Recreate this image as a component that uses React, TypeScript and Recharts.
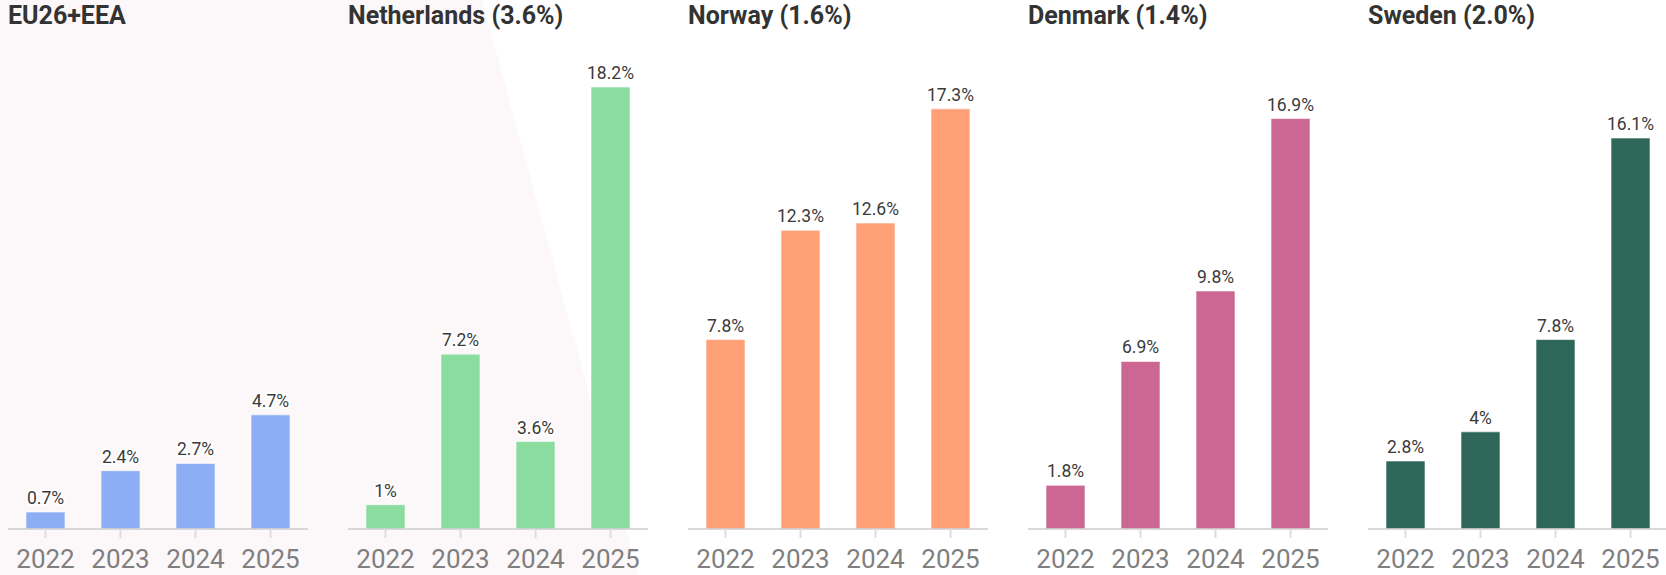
import { BarChart, Bar, XAxis, YAxis, LabelList } from 'recharts'

const YEARS = ['2022', '2023', '2024', '2025']

const TITLES = ['EU26+EEA', 'Netherlands (3.6%)', 'Norway (1.6%)', 'Denmark (1.4%)', 'Sweden (2.0%)']

const EU_VALUES = [0.7, 2.4, 2.7, 4.7]
const NETHERLANDS_VALUES = [1, 7.2, 3.6, 18.2]
const NORWAY_VALUES = [7.8, 12.3, 12.6, 17.3]
const DENMARK_VALUES = [1.8, 6.9, 9.8, 16.9]
const SWEDEN_VALUES = [2.8, 4, 7.8, 16.1]

const SERIES = [EU_VALUES, NETHERLANDS_VALUES, NORWAY_VALUES, DENMARK_VALUES, SWEDEN_VALUES]
const COLORS = ['#8daef4', '#8adc9f', '#ffa077', '#cc6693', '#2e6759']

const Y_MAX = Math.max(...SERIES.flat())
const FONT = 'Roboto, "Noto Sans", sans-serif'

const PANEL_W = 340
const CHART_H = 575

function ValueLabel(props: any) {
  const { x, y, width, value } = props
  return (
    <text
      x={x + width / 2}
      y={y - 8}
      textAnchor="middle"
      fontFamily={FONT}
      fontSize={17.5}
      fill="#3a3a3a"
      stroke="#fff"
      strokeWidth={4}
      strokeLinejoin="round"
      paintOrder="stroke"
    >
      {`${value}%`}
    </text>
  )
}

function Panel({ index }: { index: number }) {
  const data = YEARS.map((year, i) => ({ year, value: SERIES[index][i] }))
  return (
    <div style={{ position: 'absolute', left: index * PANEL_W, top: 0, width: PANEL_W, height: CHART_H }}>
      <div
        style={{
          position: 'absolute',
          left: 8,
          top: 3,
          fontFamily: FONT,
          fontWeight: 700,
          fontSize: 25,
          lineHeight: '25px',
          color: '#333',
          whiteSpace: 'nowrap',
        }}
      >
        {TITLES[index]}
      </div>
      <BarChart
        width={PANEL_W}
        height={CHART_H}
        data={data}
        margin={{ top: 87, right: 32, bottom: 0, left: 8 }}
        barCategoryGap="24%"
      >
        <XAxis
          dataKey="year"
          height={46}
          interval={0}
          axisLine={{ stroke: '#cccccc', strokeWidth: 1.5 }}
          tickLine={{ stroke: '#dddddd', strokeWidth: 2 }}
          tickSize={9}
          tickMargin={12}
          tick={{ fill: '#7f7f7f', fontSize: 26, fontFamily: FONT }}
        />
        <YAxis hide domain={[0, Y_MAX]} />
        <Bar
          dataKey="value"
          fill={COLORS[index]}
          stroke="rgba(255,255,255,0.6)"
          strokeWidth={1}
          isAnimationActive={false}
        >
          <LabelList dataKey="value" content={<ValueLabel />} />
        </Bar>
      </BarChart>
    </div>
  )
}

export default function App() {
  return (
    <div
      style={{
        position: 'absolute',
        left: 0,
        top: 0,
        width: 1666,
        height: CHART_H,
        overflow: 'hidden',
        background: '#ffffff',
      }}
    >
      <div
        style={{
          position: 'absolute',
          inset: 0,
          background: '#fcf7f9',
          clipPath: 'polygon(0 0, 482px 0, 638px 575px, 0 575px)',
        }}
      />
      {TITLES.map((_, i) => (
        <Panel key={i} index={i} />
      ))}
    </div>
  )
}
